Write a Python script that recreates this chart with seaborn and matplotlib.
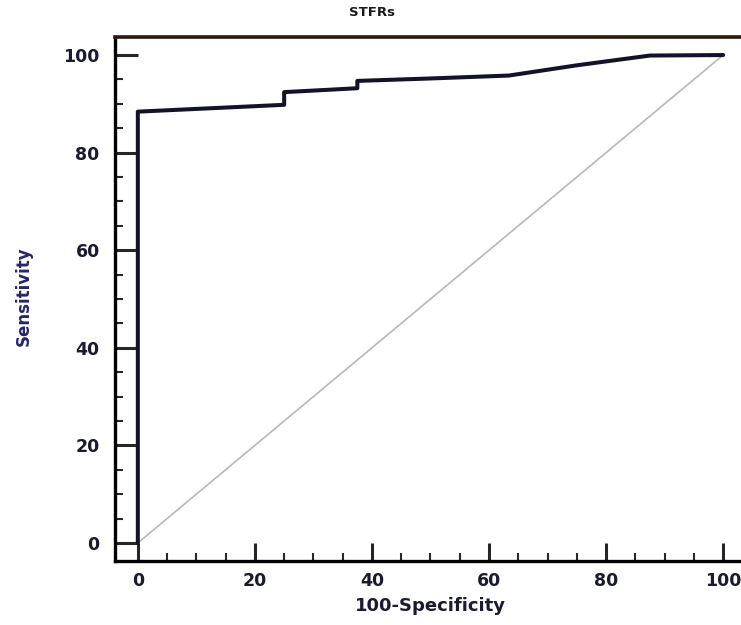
import matplotlib
matplotlib.use("Agg")
import matplotlib.pyplot as plt
import seaborn as sns
import pandas as pd
from matplotlib.ticker import MultipleLocator

# ROC curve (100-Specificity, Sensitivity)
fpr = [0, 0, 25, 25, 37.5, 37.5, 50, 63.4, 75, 87.5, 100]
sens = [0, 88.4, 89.8, 92.4, 93.2, 94.7, 95.2, 95.8, 97.9, 99.9, 100]
diag_x = [0, 100]
diag_y = [0, 100]

roc = pd.DataFrame({"fpr": fpr, "sens": sens})
diag = pd.DataFrame({"x": diag_x, "y": diag_y})

sns.set_style("ticks")
plt.rcParams["font.family"] = ["DejaVu Sans"]

fig = plt.figure(figsize=(7.41, 6.25), dpi=100)
ax = fig.add_axes([115 / 741, 64 / 625, 631 / 741, 524 / 625])

sns.lineplot(data=diag, x="x", y="y", sort=False, estimator=None,
             color="#b8b8b8", lw=1.2, ax=ax)
sns.lineplot(data=roc, x="fpr", y="sens", sort=False, estimator=None,
             color="#12122a", lw=2.9, ax=ax)

ax.set_xlim(-3.9, 103.9)
ax.set_ylim(-3.7, 103.7)
ax.xaxis.set_major_locator(MultipleLocator(20))
ax.xaxis.set_minor_locator(MultipleLocator(5))
ax.yaxis.set_major_locator(MultipleLocator(20))
ax.yaxis.set_minor_locator(MultipleLocator(5))

ax.tick_params(axis="x", which="major", direction="in", length=13, width=2.2, pad=8,
               labelsize=12.5, labelcolor="#1a1a30")
ax.tick_params(axis="y", which="major", direction="in", length=16.5, width=2.2, pad=11,
               labelsize=12.5, labelcolor="#1a1a30")
ax.tick_params(which="minor", direction="in", length=6, width=1.5)
for lab in ax.get_xticklabels() + ax.get_yticklabels():
    lab.set_fontweight("bold")

for s in ["left", "bottom"]:
    ax.spines[s].set_linewidth(2.4)
    ax.spines[s].set_color("black")
ax.spines["top"].set_linewidth(2.6)
ax.spines["top"].set_color("#2a1812")
ax.spines["right"].set_visible(False)

ax.set_xlabel("100-Specificity", fontsize=13, fontweight="bold",
              color="#1a1a30", labelpad=5)
ax.set_ylabel("")
fig.text(24 / 741, 1 - 296 / 625, "Sensitivity", rotation=90, fontsize=12,
         fontweight="bold", color="#25256b", ha="center", va="center")
fig.text(372 / 741, 1 - 12 / 625, "STFRs", fontsize=9.5, fontweight="bold",
         color="#1a1a1a", ha="center", va="center")

fig.savefig("out.png", dpi=100)
